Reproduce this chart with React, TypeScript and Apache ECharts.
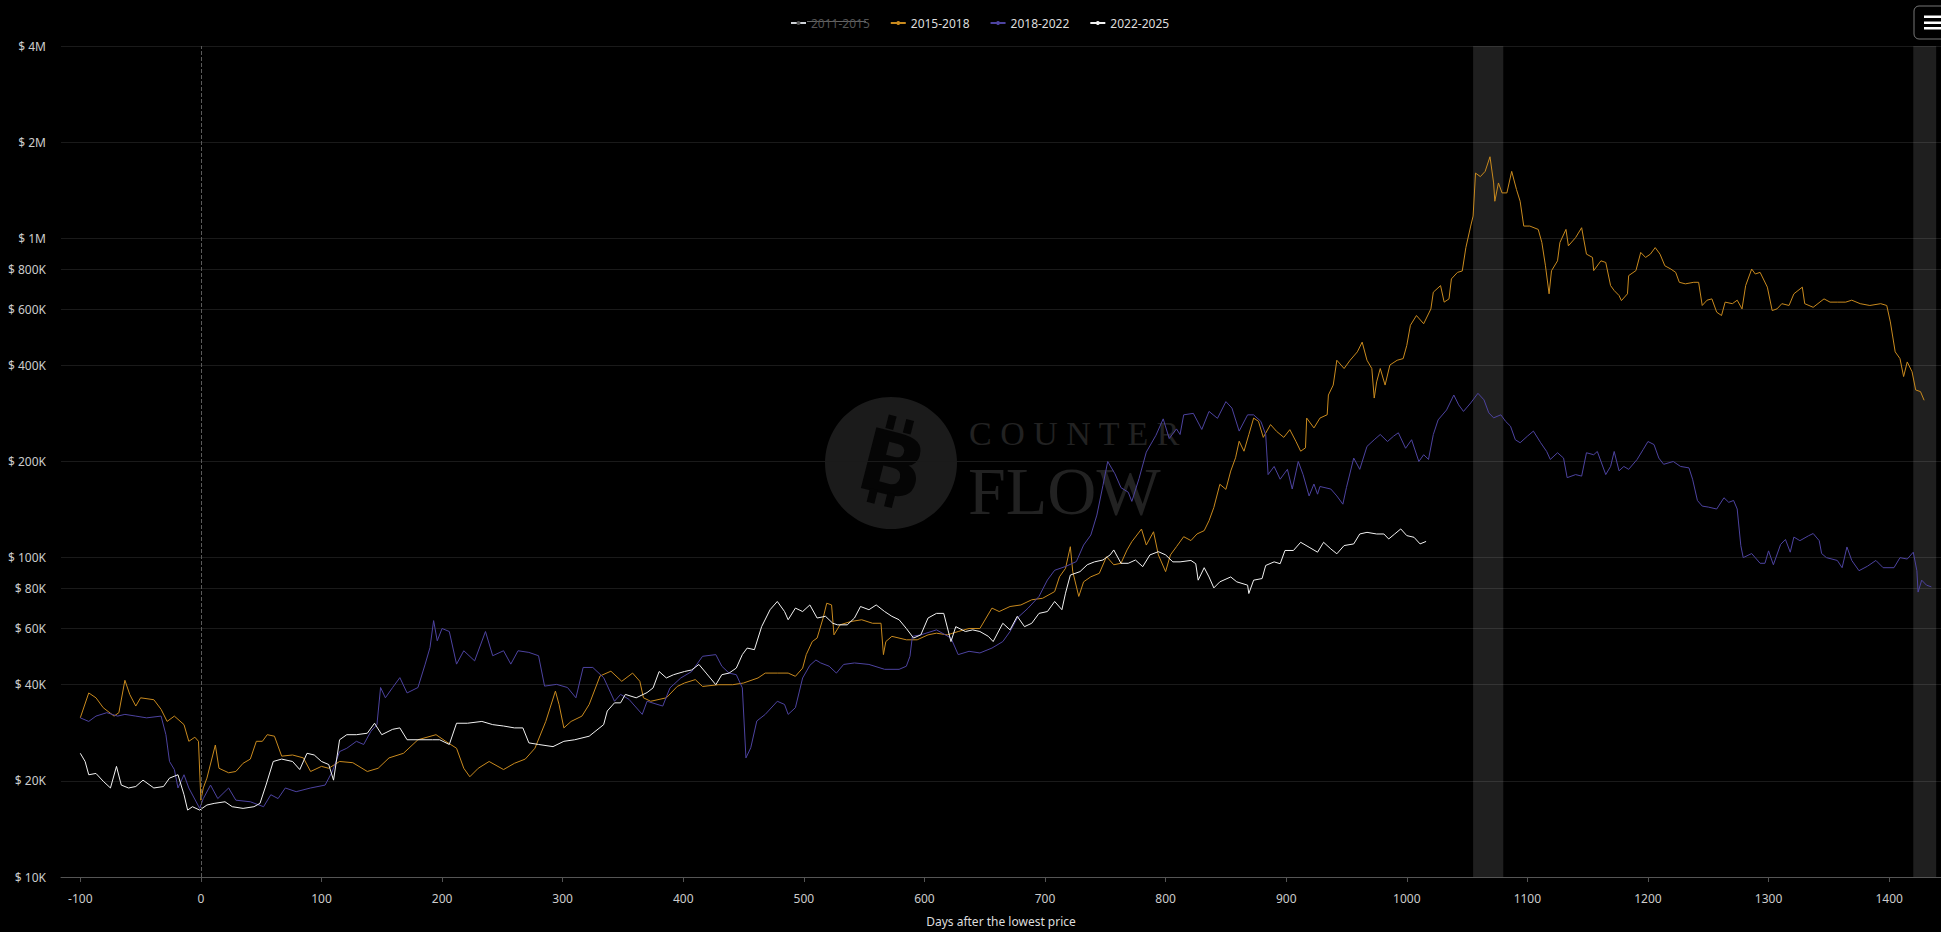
import React, { useEffect, useRef } from "react";
import * as echarts from "echarts";

const SERIES_NAMES = ["2011-2015", "2015-2018", "2018-2022", "2022-2025"];
const SERIES_COLORS = ["#8a8a8a", "#c98a1e", "#4d43a0", "#f2f2f2"];

const X_TICKS = [-100, 0, 100, 200, 300, 400, 500, 600, 700, 800, 900, 1000, 1100, 1200, 1300, 1400];
const Y_TICKS = [10000, 20000, 40000, 60000, 80000, 100000, 200000, 400000, 600000, 800000, 1000000, 2000000, 4000000];

const HIGHLIGHT_RANGES = [[1055, 1080], [1420, 1439]];

const cycle2011: number[][] = [];

const cycle2015: number[][] = [
  [-100,31500],[-93,37700],[-87,36400],[-81,33900],[-72,31900],[-68,32700],[-63,41300],[-59,37300],[-54,34300],[-50,36400],[-39,35900],[-33,33500],[-28,30700],[-22,31900],[-14,30000],[-10,26600],[-5,27400],[-2,26600],[0,17400],[2,19000],[5,20400],[12,25900],[15,21900],[23,21200],[29,21400],[35,22700],[41,23400],[46,26600],[51,26600],[55,27900],[61,27600],[67,23900],[76,24100],[85,23600],[91,21400],[100,22200],[106,21900],[115,23000],[126,22800],[138,21400],[147,21900],[156,23600],[168,24400],[180,26900],[195,27900],[203,26600],[212,25300],[218,21900],[223,20600],[230,21900],[239,23000],[251,21700],[260,22700],[269,23400],[277,25300],[286,30700],[294,38200],[297,34700],[301,29300],[307,30700],[316,31900],[322,34700],[331,42600],[340,44100],[349,41000],[358,43500],[364,41000],[367,36400],[373,35500],[386,36400],[395,39500],[401,40500],[410,41500],[416,39500],[429,40000],[441,40000],[450,40500],[462,42000],[468,43500],[478,43500],[487,43500],[493,42500],[499,45100],[502,49700],[507,54600],[511,56000],[516,64700],[519,72000],[523,71100],[525,57300],[530,61600],[539,63100],[548,63900],[557,62300],[564,62300],[566,49700],[568,54600],[573,56700],[585,55300],[594,55300],[603,57300],[610,58000],[619,57300],[628,58700],[637,60000],[646,60000],[656,69500],[662,67800],[671,70300],[680,71100],[689,73800],[698,74600],[708,78300],[712,87100],[717,92600],[721,108200],[723,90400],[728,75600],[732,84000],[738,87100],[745,89300],[751,100700],[757,95000],[763,96000],[768,105700],[772,112200],[780,122900],[784,109500],[790,120500],[794,102000],[800,90400],[804,102000],[809,108200],[815,116300],[821,113100],[826,118600],[832,121500],[836,130500],[840,143600],[845,169700],[850,163600],[854,186700],[858,205400],[861,231500],[865,215400],[869,242800],[873,273500],[877,267200],[881,238000],[887,261000],[892,248600],[898,238000],[903,251600],[908,231500],[912,215400],[916,220700],[917,273500],[923,254800],[928,273500],[934,280200],[935,323000],[939,347000],[942,415000],[948,391000],[953,415000],[959,441000],[963,473000],[967,415000],[971,391000],[973,316000],[975,355000],[978,391000],[982,347000],[986,401000],[992,415000],[997,420000],[1000,462000],[1003,534000],[1008,573000],[1014,540000],[1020,601000],[1022,678000],[1028,711000],[1031,631000],[1035,646000],[1037,746000],[1042,782000],[1046,790000],[1049,935000],[1053,1092000],[1055,1174000],[1057,1600000],[1061,1560000],[1065,1620000],[1069,1800000],[1072,1490000],[1073,1306000],[1076,1490000],[1079,1387000],[1083,1387000],[1087,1620000],[1091,1420000],[1094,1306000],[1097,1092000],[1102,1092000],[1109,1066000],[1112,970000],[1115,820000],[1118,670000],[1120,791000],[1125,850000],[1127,970000],[1132,1066000],[1134,947000],[1140,1005000],[1145,1079000],[1149,892000],[1154,871000],[1155,792000],[1161,850000],[1165,840000],[1169,711000],[1172,686000],[1176,662000],[1178,638000],[1183,670000],[1184,764000],[1190,792000],[1194,903000],[1198,871000],[1202,892000],[1206,935000],[1210,892000],[1214,820000],[1219,801000],[1223,782000],[1226,728000],[1231,720000],[1238,728000],[1242,728000],[1245,616000],[1249,640000],[1253,646000],[1257,587000],[1261,573000],[1264,631000],[1270,624000],[1274,640000],[1278,601000],[1281,711000],[1286,801000],[1289,773000],[1293,782000],[1299,703000],[1303,594000],[1307,601000],[1311,624000],[1317,616000],[1321,670000],[1328,703000],[1330,624000],[1337,608000],[1346,646000],[1351,631000],[1357,631000],[1364,631000],[1369,640000],[1376,624000],[1384,616000],[1393,624000],[1398,616000],[1401,547000],[1405,441000],[1409,420000],[1412,369000],[1415,410000],[1419,382000],[1422,335000],[1426,331000],[1429,311000]
];

const cycle2018: number[][] = [
  [-100,31500],[-93,30700],[-87,31900],[-78,32700],[-69,31900],[-63,32300],[-54,31900],[-45,31500],[-33,31900],[-29,27900],[-26,23000],[-22,21700],[-19,19000],[-14,20900],[-10,19000],[-1,16400],[2,17600],[8,19400],[14,17600],[23,19000],[29,17400],[41,17200],[52,16600],[58,18100],[64,17600],[70,19000],[79,18500],[91,19000],[103,19400],[109,21400],[115,24700],[121,25300],[129,26600],[135,26000],[141,28600],[146,30000],[149,39200],[153,36400],[159,39200],[165,42100],[171,37700],[180,39200],[186,46400],[190,52300],[193,63500],[196,54900],[200,60000],[206,58700],[212,46400],[218,51100],[227,47500],[236,58700],[242,49300],[251,51100],[257,46400],[263,51100],[272,50500],[280,49300],[285,39600],[295,40100],[304,39200],[311,36400],[317,45300],[325,45300],[334,42100],[343,35500],[348,37300],[355,36000],[366,32300],[370,35500],[383,34300],[389,39100],[398,42000],[407,44000],[416,49100],[427,49700],[432,45700],[438,43500],[444,43000],[449,39100],[452,23600],[456,25400],[461,30800],[468,32300],[478,35500],[484,34700],[487,32300],[493,33900],[499,42000],[505,46000],[510,47800],[514,46800],[521,45700],[527,43500],[533,46300],[542,46800],[554,46300],[567,44700],[579,44700],[585,45700],[588,49100],[590,56700],[597,57300],[610,59400],[622,56000],[628,49700],[637,50900],[646,50300],[656,52100],[665,54600],[671,58700],[677,64700],[686,69500],[695,75600],[702,85100],[708,91300],[717,93800],[726,97200],[732,109500],[738,117700],[743,135900],[748,168000],[752,200000],[758,183000],[763,165600],[769,160300],[772,150000],[778,177000],[784,214000],[792,241600],[798,272000],[803,236000],[809,253000],[812,243000],[815,280000],[823,283000],[830,252000],[836,287000],[843,273000],[850,308000],[855,294000],[861,249000],[868,280000],[873,280000],[879,267000],[883,243000],[885,182000],[890,193000],[895,176000],[901,189000],[905,164000],[910,200000],[914,182000],[919,156000],[923,170000],[926,158000],[928,167000],[937,164000],[942,156000],[947,147000],[950,166000],[956,205000],[961,189000],[967,223000],[973,234000],[978,243000],[984,231000],[989,240000],[993,246000],[999,220000],[1004,234000],[1010,200000],[1014,210000],[1018,203000],[1022,243000],[1026,270000],[1033,290000],[1039,323000],[1043,301000],[1047,287000],[1053,305000],[1059,327000],[1064,312000],[1068,284000],[1072,274000],[1078,280000],[1082,267000],[1086,258000],[1090,234000],[1094,229000],[1100,240000],[1105,249000],[1111,229000],[1116,215000],[1119,203000],[1125,213000],[1130,205000],[1133,178000],[1140,182000],[1145,180000],[1149,213000],[1155,210000],[1158,215000],[1165,182000],[1169,193000],[1172,215000],[1176,187000],[1180,193000],[1184,189000],[1191,203000],[1196,218000],[1200,231000],[1205,226000],[1209,205000],[1213,196000],[1221,200000],[1227,193000],[1234,191000],[1237,176000],[1241,151000],[1245,145000],[1250,144000],[1257,142000],[1263,154000],[1267,149000],[1271,151000],[1274,142000],[1277,109000],[1279,100000],[1286,103000],[1293,96000],[1297,96000],[1300,105000],[1304,95000],[1310,110000],[1314,114000],[1318,104000],[1321,116000],[1326,113000],[1333,117000],[1337,119000],[1342,113000],[1344,103000],[1348,100000],[1357,98000],[1361,93000],[1365,108000],[1369,98000],[1375,91000],[1382,94000],[1389,98000],[1395,93000],[1404,93000],[1409,100000],[1415,99000],[1420,104000],[1423,91000],[1424,78000],[1427,85000],[1431,82000],[1435,81000]
];

const cycle2022: number[][] = [
  [-100,24400],[-96,23000],[-93,20900],[-87,21100],[-81,19950],[-75,19000],[-70,22200],[-66,19400],[-60,19000],[-54,19200],[-48,20100],[-39,19000],[-31,19200],[-26,20400],[-19,20900],[-14,18100],[-11,16200],[-7,16600],[-1,16200],[5,16800],[11,17000],[20,17200],[26,16600],[35,16400],[44,16600],[49,17000],[54,19400],[60,23000],[67,23400],[76,23000],[82,21700],[88,24400],[94,24100],[100,23000],[106,22500],[110,20100],[115,26900],[121,27900],[129,27900],[138,28200],[144,30300],[150,27900],[159,29000],[165,29300],[171,26900],[180,26900],[192,26900],[198,26900],[206,26000],[212,30300],[221,30300],[233,30700],[242,30000],[251,29700],[260,29300],[267,29300],[272,26300],[280,26000],[292,25600],[301,26600],[310,26900],[322,27600],[334,30000],[337,33100],[343,35100],[348,35100],[352,37300],[361,36400],[370,37800],[375,39100],[380,44000],[386,42000],[392,43000],[401,44000],[407,44500],[413,46300],[419,43500],[427,40000],[432,43000],[438,43500],[444,45100],[449,49700],[453,52100],[459,51500],[465,60800],[472,68700],[478,72900],[484,67800],[487,63900],[493,69500],[499,67800],[505,71100],[511,64700],[518,65500],[524,62300],[528,61600],[536,61600],[542,64700],[547,70300],[554,68700],[560,71100],[567,67800],[573,65500],[579,63900],[585,60000],[591,56000],[597,57300],[603,64700],[610,66900],[616,66900],[622,54600],[626,60800],[634,58700],[640,59400],[646,58700],[653,56700],[657,54600],[665,62300],[671,59400],[677,65500],[683,60800],[689,62300],[695,66900],[702,67800],[708,72900],[714,68700],[717,77400],[721,88200],[729,90400],[735,95000],[741,97000],[748,98300],[754,102000],[757,105700],[763,96000],[769,96000],[775,98300],[781,93700],[787,102000],[794,104400],[800,102000],[806,97000],[812,97000],[821,98000],[825,95700],[827,85000],[832,93000],[836,87000],[840,80400],[845,84000],[854,87000],[859,84000],[868,82000],[869,77200],[873,85000],[880,86000],[883,94500],[890,97000],[895,95700],[899,105300],[906,105300],[912,111700],[919,107800],[926,104000],[931,111700],[937,106500],[942,102800],[948,109100],[956,110400],[961,118600],[967,120000],[975,118600],[981,118600],[985,114400],[990,118600],[995,123000],[1000,117200],[1006,115800],[1011,110400],[1016,112400]
];

const SERIES_DATA = [cycle2011, cycle2015, cycle2018, cycle2022];

const FONT = "'Noto Sans', sans-serif";
const WATERMARK_TOP = "C O U N T E R";
const WATERMARK_BOTTOM = "FLOW";

function fmtPrice(v: number): string {
  if (v >= 1000000) return "$ " + Math.round(v / 100000) / 10 + "M";
  return "$ " + Math.round(v / 1000) + "K";
}

export default function App() {
  const ref = useRef<HTMLDivElement>(null);

  useEffect(() => {
    document.body.style.margin = "0";
    document.body.style.background = "#000";
    if (!ref.current) return;
    const chart = echarts.init(ref.current, undefined, { renderer: "svg" });

    const watermark: any[] = [
      { type: "circle", shape: { cx: 891, cy: 463, r: 66 }, style: { fill: "#1b1b1b" }, z: -1, silent: true },
      {
        type: "group",
        x: 893,
        y: 463,
        rotation: -0.25,
        z: -1,
        silent: true,
        children: [
          { type: "text", style: { text: "B", x: 0, y: 2, fill: "#050505", font: "bold 86px 'DejaVu Sans'", align: "center", verticalAlign: "middle" } },
          { type: "rect", shape: { x: -16, y: -46, width: 8, height: 14 }, style: { fill: "#050505" } },
          { type: "rect", shape: { x: 2, y: -46, width: 8, height: 14 }, style: { fill: "#050505" } },
          { type: "rect", shape: { x: -16, y: 30, width: 8, height: 14 }, style: { fill: "#050505" } },
          { type: "rect", shape: { x: 2, y: 30, width: 8, height: 14 }, style: { fill: "#050505" } },
        ],
      },
      { type: "text", z: -1, silent: true, style: { text: WATERMARK_TOP, x: 969, y: 433, fill: "#222222", font: "34px 'Liberation Serif'", align: "left", verticalAlign: "middle" } },
      { type: "text", z: -1, silent: true, style: { text: WATERMARK_BOTTOM, x: 968, y: 491, fill: "#222222", font: "68px 'Liberation Serif'", align: "left", verticalAlign: "middle" } },
    ];

    const menuButton: any[] = [
      { type: "rect", shape: { x: 1914, y: 6, width: 40, height: 33, r: 5 }, style: { fill: "#000", stroke: "#777", lineWidth: 1 } },
      { type: "rect", shape: { x: 1924, y: 15.5, width: 20, height: 2.5 }, style: { fill: "#fff" } },
      { type: "rect", shape: { x: 1924, y: 21.5, width: 20, height: 2.5 }, style: { fill: "#fff" } },
      { type: "rect", shape: { x: 1924, y: 27, width: 20, height: 2.5 }, style: { fill: "#fff" } },
    ];

    const strike: any[] = [
      { type: "line", shape: { x1: 807, y1: 21.5, x2: 866, y2: 21.5 }, style: { stroke: "#666", lineWidth: 1 } },
    ];

    const series: any[] = SERIES_NAMES.map((name, i) => {
      const s: any = {
        name,
        type: "line",
        data: SERIES_DATA[i],
        showSymbol: false,
        symbol: "circle",
        symbolSize: 3,
        lineStyle: { width: 1, color: SERIES_COLORS[i] },
        itemStyle: { color: SERIES_COLORS[i] },
        color: SERIES_COLORS[i],
        silent: true,
      };
      if (i === 1) {
        s.markLine = {
          silent: true,
          symbol: "none",
          label: { show: false },
          lineStyle: { color: "#5a5a5a", type: "dashed", width: 1 },
          data: [{ xAxis: 0 }],
        };
        s.markArea = {
          silent: true,
          itemStyle: { color: "rgba(255,255,255,0.12)" },
          data: HIGHLIGHT_RANGES.map((r) => [{ xAxis: r[0] }, { xAxis: r[1] }]),
        };
      }
      return s;
    });

    chart.setOption({
      animation: false,
      backgroundColor: "#000",
      textStyle: { fontFamily: FONT },
      legend: {
        top: 12,
        left: 785,
        itemGap: 20,
        itemWidth: 15,
        itemHeight: 5,
        inactiveColor: "#555",
        textStyle: { color: "#dddddd", fontSize: 12, fontFamily: FONT },
        data: SERIES_NAMES,
        selected: { "2011-2015": false },
      },
      grid: { left: 61, right: 0, top: 46, bottom: 50 },
      xAxis: {
        type: "value",
        min: -116,
        max: 1443,
        name: "Days after the lowest price",
        nameLocation: "middle",
        nameGap: 38,
        nameTextStyle: { color: "#dddddd", fontSize: 12, fontFamily: FONT },
        axisLine: { show: true, lineStyle: { color: "#555" } },
        axisTick: { show: true, length: 5, lineStyle: { color: "#555" }, customValues: X_TICKS },
        axisLabel: { color: "#cccccc", fontSize: 12, margin: 15, customValues: X_TICKS, formatter: (v: number) => String(v), fontFamily: FONT },
        splitLine: { show: false },
      },
      yAxis: {
        type: "log",
        logBase: 10,
        min: 10000,
        max: 4000000,
        axisLine: { show: false },
        axisTick: { show: false, customValues: Y_TICKS },
        axisLabel: { color: "#cccccc", fontSize: 12, margin: 15, customValues: Y_TICKS, formatter: (v: number) => fmtPrice(v), fontFamily: FONT },
        splitLine: { show: true, lineStyle: { color: "#1a1a1a", width: 1 } },
        minorSplitLine: { show: false },
      },
      graphic: [...watermark, ...strike, ...menuButton],
      series,
    });

    return () => chart.dispose();
  }, []);

  return <div ref={ref} style={{ width: 1941, height: 932, background: "#000" }} />;
}
